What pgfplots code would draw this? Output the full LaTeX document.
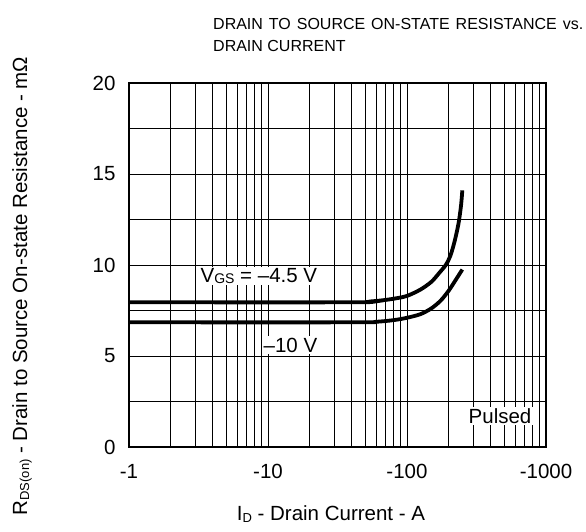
\documentclass[border=0pt]{standalone}
\usepackage{fontspec}
\setmainfont{Liberation Sans}
\usepackage{pgfplots}
\pgfplotsset{compat=1.18}
\begin{document}
\begin{tikzpicture}
\useasboundingbox (-129pt,-85pt) rectangle (457pt,447pt);
\begin{axis}[
  at={(0,0)}, anchor=south west,
  scale only axis, width=417pt, height=364pt,
  xmode=log, xmin=1, xmax=1000, ymin=0, ymax=20,
  xtick={1,10,100,1000}, xticklabels={-1,-10,-100,-1000},
  ytick={0,5,10,15,20},
  minor ytick={2.5,7.5,12.5,17.5},
  grid=both,
  major grid style={black, line width=0.8pt},
  minor grid style={black, line width=0.8pt},
  axis line style={line width=2.6pt},
  major tick length=0pt, minor tick length=0pt,
  tick label style={font=\fontsize{20.5}{22}\selectfont},
  /pgf/number format/assume math mode=true,
  xticklabel style={yshift=-14pt},
  yticklabel style={xshift=-10pt},
  clip=false,
]
\addplot[black, line width=3.8pt, smooth, tension=0.5] coordinates {
(1,7.95) (40,7.95) (55,8.0) (70,8.08) (85,8.18) (100,8.3) (125,8.65) (150,9.08) (170,9.55) (190,10.0) (205,10.5) (220,11.3) (235,12.3) (245,13.3) (250,14.1)
};
\addplot[black, line width=3.8pt, smooth, tension=0.5] coordinates {
(1,6.85) (40,6.85) (60,6.88) (80,6.97) (100,7.1) (125,7.3) (150,7.62) (175,8.05) (200,8.6) (225,9.2) (250,9.75)
};
\node[fill=white, inner sep=1.5pt, font=\fontsize{20.5}{22}\selectfont] at (axis cs:8.6,9.4) {V\raisebox{-1pt}{\fontsize{14}{14}\selectfont GS} = –4.5 V};
\node[fill=white, inner sep=1.5pt, font=\fontsize{20.5}{22}\selectfont] at (axis cs:14.5,5.6) {–10 V};
\node[fill=white, inner sep=1.5pt, font=\fontsize{20.5}{22}\selectfont] at (axis cs:467,1.7) {Pulsed};
\end{axis}
\node[anchor=west, inner sep=0pt, font=\fontsize{16}{18}\selectfont] at (84pt,423.5pt) {\makebox[370pt][s]{DRAIN TO SOURCE ON-STATE RESISTANCE vs.}};
\node[anchor=west, inner sep=0pt, font=\fontsize{16}{18}\selectfont] at (84pt,401.5pt) {DRAIN CURRENT};
\node[rotate=90, inner sep=0pt, font=\fontsize{20.5}{22}\selectfont] at (-107pt,161pt) {R\raisebox{-2pt}{\fontsize{13}{13}\selectfont DS(on)} - Drain to Source On-state Resistance - mΩ};
\node[inner sep=0pt, font=\fontsize{20.5}{22}\selectfont] at (202pt,-67pt) {I\raisebox{-2pt}{\fontsize{13}{13}\selectfont D} - Drain Current - A};
\end{tikzpicture}
\end{document}
